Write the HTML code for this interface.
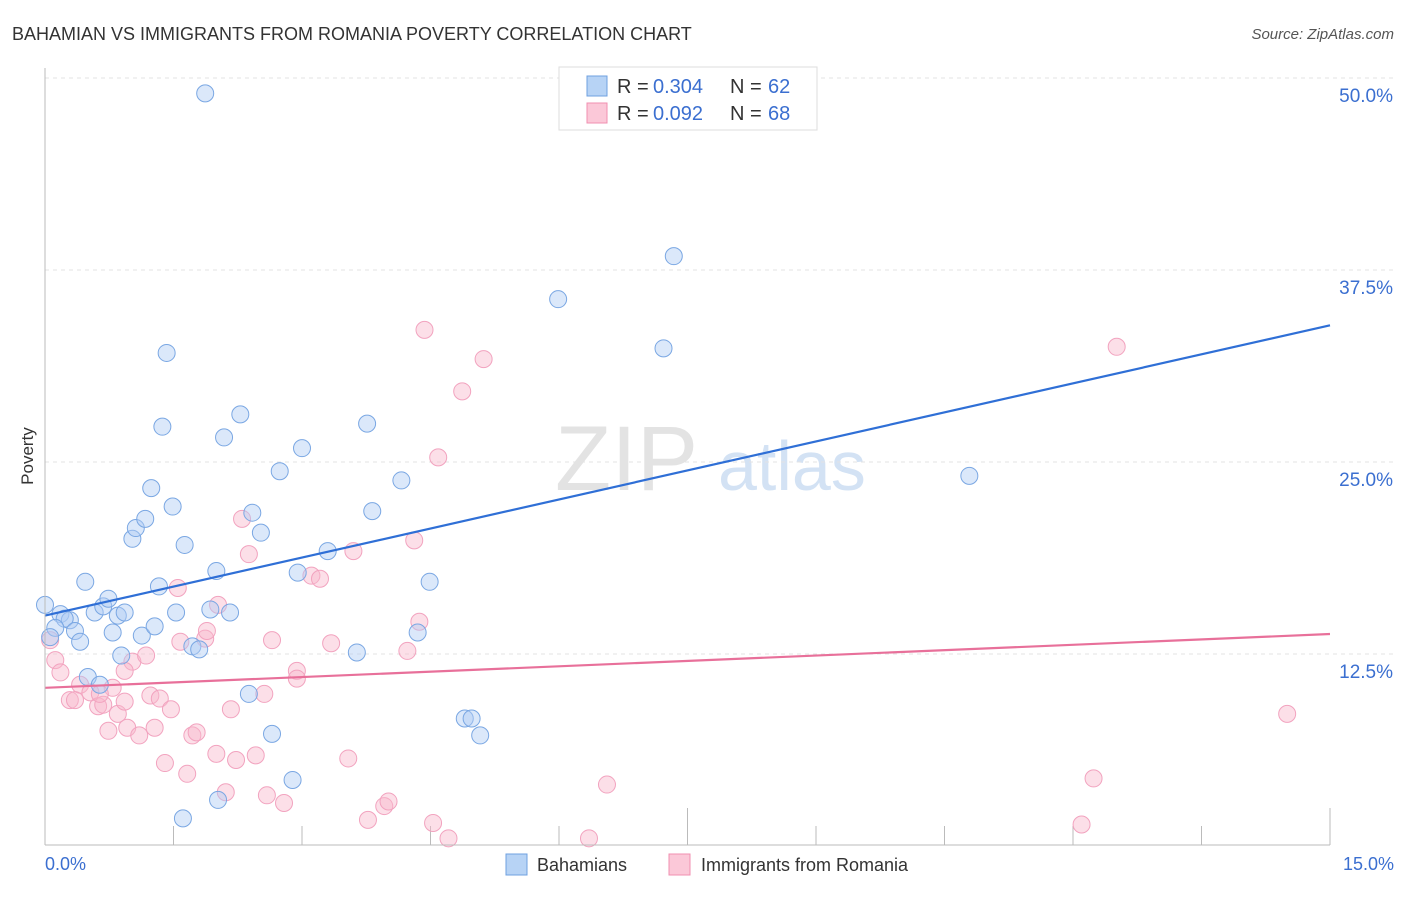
<!DOCTYPE html>
<html><head><meta charset="utf-8"><style>
body{margin:0;background:#fff;font-family:"Liberation Sans",sans-serif;}
svg text{font-family:"Liberation Sans",sans-serif;}
</style></head><body>
<svg width="1406" height="892" xmlns="http://www.w3.org/2000/svg">
<text x="12" y="40" font-size="18" fill="#333">BAHAMIAN VS IMMIGRANTS FROM ROMANIA POVERTY CORRELATION CHART</text>
<text x="1394" y="39" font-size="15" fill="#555" font-style="italic" text-anchor="end">Source: ZipAtlas.com</text>
<text x="33" y="456" font-size="17" fill="#333" text-anchor="middle" transform="rotate(-90 33 456)">Poverty</text>
<g><text x="555" y="490" font-size="92" font-family="Liberation Serif" fill="#ddd" opacity="0.8">ZIP</text><text x="718" y="490" font-size="70" fill="#c9dcf2" opacity="0.8">atlas</text></g>
<g id="grid"></g><g id="ticks"></g><g id="pts"></g><g id="lines"></g>
<line x1="45" y1="845" x2="1330" y2="845" stroke="#bbb"/>
<line x1="45" y1="68" x2="45" y2="845" stroke="#bbb"/>
<text x="45" y="870" font-size="18" fill="#3b6fd0">0.0%</text>
<text x="1394" y="870" font-size="18" fill="#3b6fd0" text-anchor="end">15.0%</text>
<g>
<rect x="559" y="67" width="258" height="63" fill="#fff" stroke="#ddd"/>
<rect x="587" y="76" width="20" height="20" fill="#b7d3f5" stroke="#6fa0e0"/>
<rect x="587" y="103" width="20" height="20" fill="#fbc8d8" stroke="#f08fb0"/>
<text x="617" y="93" font-size="20" fill="#333">R = </text><text x="653" y="93" font-size="20" fill="#3b6fd0">0.304</text>
<text x="730" y="93" font-size="20" fill="#333">N = </text><text x="768" y="93" font-size="20" fill="#3b6fd0">62</text>
<text x="617" y="120" font-size="20" fill="#333">R = </text><text x="653" y="120" font-size="20" fill="#3b6fd0">0.092</text>
<text x="730" y="120" font-size="20" fill="#333">N = </text><text x="768" y="120" font-size="20" fill="#3b6fd0">68</text>
</g>
<g>
<rect x="506" y="854" width="21" height="21" fill="#b7d3f5" stroke="#6fa0e0"/>
<text x="537" y="871" font-size="18" fill="#333">Bahamians</text>
<rect x="669" y="854" width="21" height="21" fill="#fbc8d8" stroke="#f08fb0"/>
<text x="701" y="871" font-size="18" fill="#333">Immigrants from Romania</text>
</g>
</svg>
<script>
const yTicks=[12.5,25,37.5,50];
const yTickLabels=["12.5%","25.0%","37.5%","50.0%"];
const xTicks=[0,1.5,3,4.5,6,7.5,9,10.5,12,13.5,15];
const blueX=[0.00,0.18,0.29,0.23,0.35,0.41,0.12,0.47,0.58,0.68,0.74,0.79,0.85,0.93,0.89,1.02,1.06,1.17,1.13,1.24,1.28,1.33,1.42,1.37,1.49,1.53,1.63,1.72,1.80,1.87,1.93,2.00,2.09,2.16,2.28,2.42,2.38,2.52,2.65,2.74,2.89,2.95,3.00,3.30,3.64,3.76,3.82,4.16,4.35,4.49,4.90,4.98,5.08,5.99,7.22,7.34,10.79,1.61,2.02,0.06,0.50,0.64];
const blueY=[15.7,15.1,14.7,14.8,14.0,13.3,14.2,17.2,15.2,15.6,16.1,13.9,15.0,15.2,12.4,20.0,20.7,21.3,13.7,23.3,14.3,16.9,32.1,27.3,22.1,15.2,19.6,13.0,12.8,49.0,15.4,17.9,26.6,15.2,28.1,21.7,9.9,20.4,7.3,24.4,4.3,17.8,25.9,19.2,12.6,27.5,21.8,23.8,13.9,17.2,8.3,8.3,7.2,35.6,32.4,38.4,24.1,1.8,3.0,13.6,11.0,10.5];
const pinkX=[0.06,0.12,0.18,0.29,0.41,0.53,0.35,0.62,0.68,0.74,0.79,0.85,0.93,0.96,1.02,1.10,1.18,1.23,1.28,1.34,1.47,1.40,1.55,1.58,1.66,1.72,1.77,1.87,1.89,2.00,2.02,2.11,2.17,2.23,2.30,2.38,2.46,2.56,2.59,2.65,2.79,2.94,2.94,3.11,3.21,3.34,3.54,3.60,3.77,3.96,4.01,4.23,4.31,4.37,4.43,4.53,4.59,4.71,4.87,5.12,6.35,6.56,12.10,12.24,12.51,14.50,0.64,0.93];
const pinkY=[13.4,12.1,11.3,9.5,10.5,10.0,9.5,9.1,9.2,7.5,10.3,8.6,9.4,7.7,12.0,7.2,12.4,9.8,7.7,9.6,8.9,5.4,16.8,13.3,4.7,7.2,7.4,13.5,14.0,6.0,15.7,3.5,8.9,5.6,21.3,19.0,5.9,9.9,3.3,13.4,2.8,11.4,10.9,17.6,17.4,13.2,5.7,19.2,1.7,2.6,2.9,12.7,19.9,14.6,33.6,1.5,25.3,0.5,29.6,31.7,0.5,4.0,1.4,4.4,32.5,8.6,9.9,11.4];
const blueLine=[15.0,33.9];
const pinkLine=[10.3,13.8];
const NS="http://www.w3.org/2000/svg";
const X=v=>45+v/15*1285, Y=v=>846-v*15.36;
function mk(t,a,p){const e=document.createElementNS(NS,t);for(const k in a)e.setAttribute(k,a[k]);document.getElementById(p).appendChild(e);return e;}
yTicks.forEach((v,i)=>{const g=mk('line',{x1:45,x2:1394,y1:Y(v),y2:Y(v),stroke:'#e3e3e3','stroke-dasharray':'4 4'},'grid');


const t=mk('text',{x:1393,y:Y(v)+24,'font-size':19,fill:'#3b6fd0','text-anchor':'end'},'grid');t.textContent=yTickLabels[i];

});
xTicks.forEach((v,i)=>{const l=mk('line',{x1:X(v),x2:X(v),y1:(i%5==0&&i>0)?808:826,y2:845,stroke:'#bbb'},'ticks');

});
function pts(xs,ys,f,s,n){xs.forEach((x,i)=>{const c=mk('circle',{cx:X(x),cy:Y(ys[i]),r:8.5,fill:f,stroke:s,'stroke-width':1},'pts');

});}
pts(pinkX,pinkY,'rgba(248,185,205,0.45)','#f2a3bf','romania-point');
pts(blueX,blueY,'rgba(175,205,243,0.45)','#7aa7e3','bahamian-point');
const b=mk('line',{x1:X(0),y1:Y(blueLine[0]),x2:X(15),y2:Y(blueLine[1]),stroke:'#2f6fd6','stroke-width':2.2},'lines');


const p=mk('line',{x1:X(0),y1:Y(pinkLine[0]),x2:X(15),y2:Y(pinkLine[1]),stroke:'#e8709a','stroke-width':2.2},'lines');


</script>
</body></html>
